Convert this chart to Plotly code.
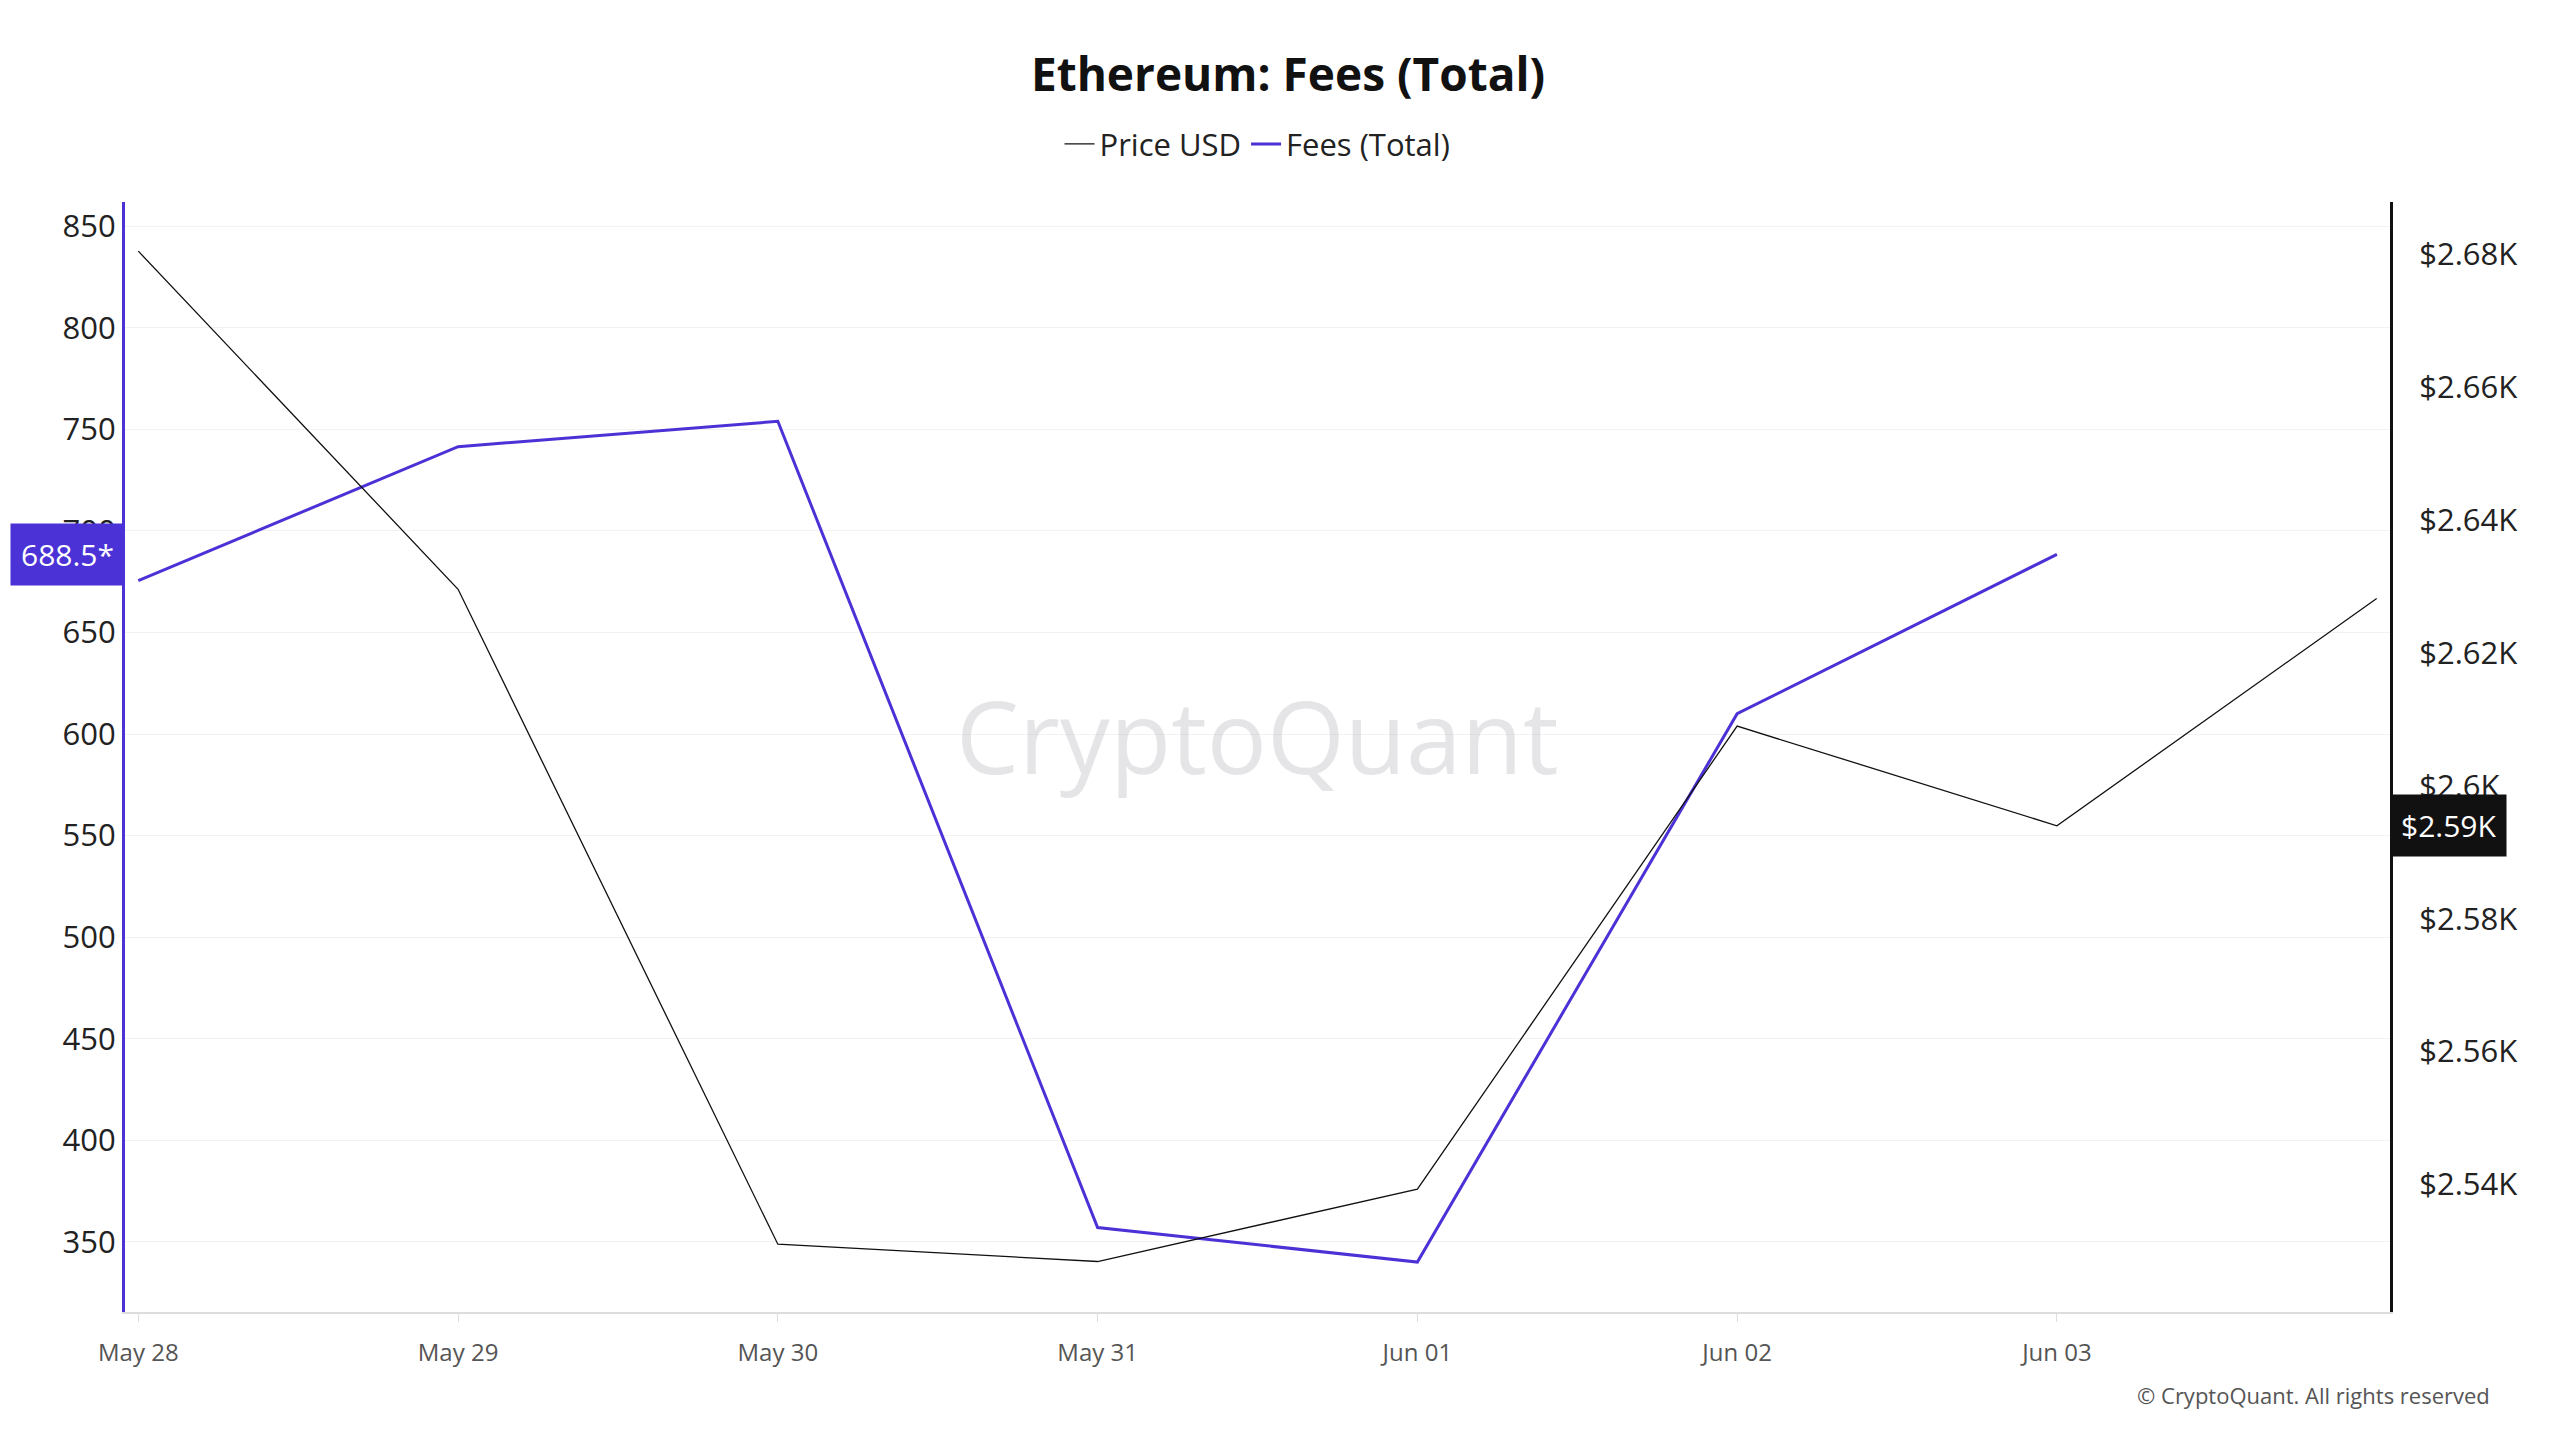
import plotly.graph_objects as go

dates = ["2024-05-28","2024-05-29","2024-05-30","2024-05-31","2024-06-01","2024-06-02","2024-06-03","2024-06-04"]
price = [2680.5, 2629.6, 2531.0, 2528.4, 2539.3, 2609.0, 2594.0, 2628.2]
fee_dates = dates[:7]
fees = [675.6, 741.5, 754.0, 357.0, 340.0, 610.0, 688.5]
tickvals = dates[:7]
ticktext = ["May 28","May 29","May 30","May 31","Jun 01","Jun 02","Jun 03"]

fig = go.Figure()
fig.add_trace(go.Scatter(x=dates, y=price, name="Price USD", yaxis="y2", mode="lines",
                         line=dict(color="#111111", width=1.3)))
fig.add_trace(go.Scatter(x=fee_dates, y=fees, name="Fees (Total)", mode="lines",
                         line=dict(color="#4b32d6", width=3)))

fig.update_layout(
    width=2560, height=1440,
    paper_bgcolor="white", plot_bgcolor="white",
    font=dict(family="Open Sans", color="#222"),
    title=dict(text="<b>Ethereum: Fees (Total)</b>", x=0.5, y=0.965, xanchor="center",
               font=dict(size=46, color="#111")),
    legend=dict(orientation="h", x=0.5, xanchor="center", y=1.052, yanchor="middle",
                font=dict(size=31), bgcolor="rgba(0,0,0,0)"),
    margin=dict(l=117, r=178, t=194, b=136),
    xaxis=dict(type="date", range=["2024-05-27 23:00", "2024-06-04 01:00"],
               tickvals=tickvals, ticktext=ticktext, showgrid=False,
               tickfont=dict(size=24, color="#555"), showline=True, linecolor="#ddd",
               linewidth=2, ticks="outside", ticklen=8, tickcolor="#ddd", ticklabelstandoff=10),
    yaxis=dict(range=[315.4, 862], tickvals=[350,400,450,500,550,600,650,700,750,800,850],
               tickfont=dict(size=31, color="#222"), showgrid=True, gridcolor="#f2f2f2",
               showline=True, linecolor="#4b32d6", linewidth=3, zeroline=False),
    yaxis2=dict(overlaying="y", side="right", range=[2520.8, 2687.9],
                tickvals=[2540,2560,2580,2600,2620,2640,2660,2680],
                ticktext=["$2.54K","$2.56K","$2.58K","$2.6K","$2.62K","$2.64K","$2.66K","$2.68K"],
                tickfont=dict(size=31, color="#222"), showgrid=False,
                showline=True, linecolor="#111", linewidth=3, zeroline=False, ticklabelstandoff=20),
    annotations=[
        dict(text="CryptoQuant", x=0.5, y=0.52, xref="paper", yref="paper", showarrow=False,
             font=dict(size=100, color="rgba(180,180,190,0.35)")),
        dict(text="© CryptoQuant. All rights reserved", x=1.045, y=-0.09, xref="paper", yref="paper",
             xanchor="right", showarrow=False, font=dict(size=22, color="#555")),
        dict(text="688.5*", x=0, xref="paper", y=fees[-1], yref="y", xanchor="right", showarrow=False,
             bgcolor="#4b32d6", font=dict(size=30, color="white"), borderpad=10),
        dict(text="$2.59K", x=1, xref="paper", y=2594, yref="y2", xanchor="left", showarrow=False,
             bgcolor="#111", font=dict(size=30, color="white"), borderpad=10),
    ],
)
fig.write_html("out.html")
